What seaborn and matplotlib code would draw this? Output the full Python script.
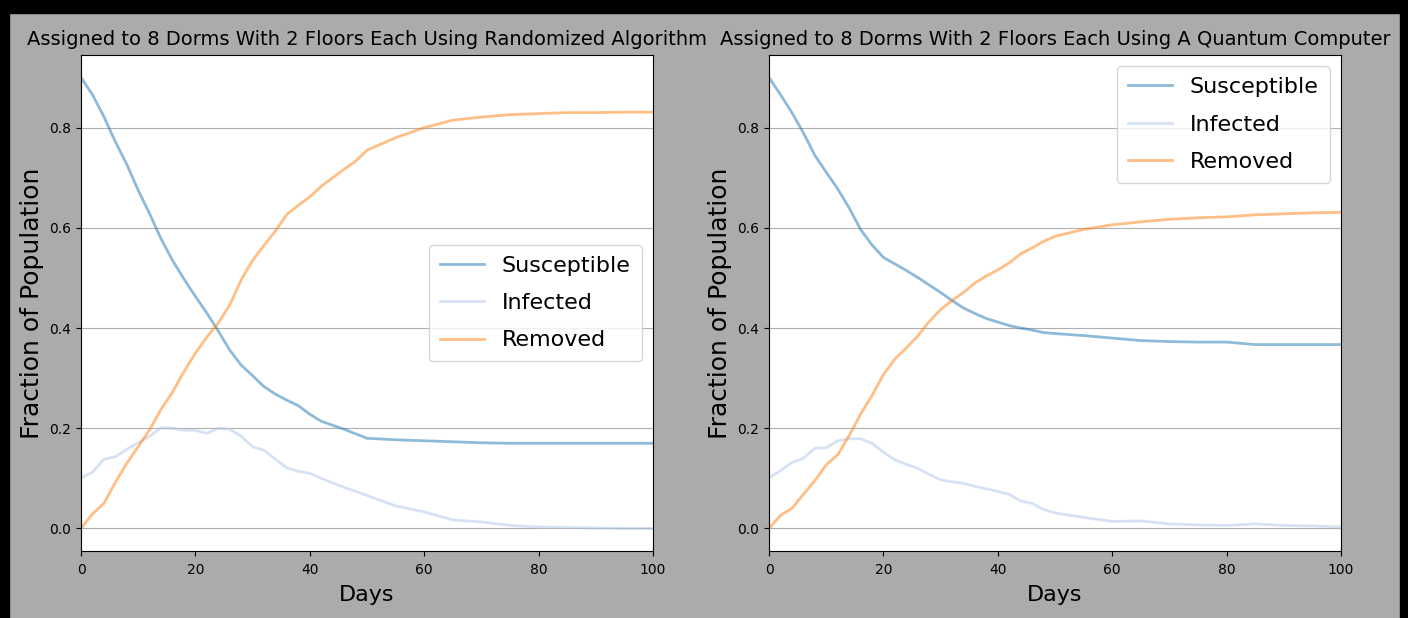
import numpy as np
import pandas as pd
import seaborn as sns
import matplotlib.pyplot as plt
from matplotlib.patches import Rectangle

# days (denser in the first half where curves move fast)
days = [0, 2, 4, 6, 8, 10, 12, 14, 16, 18, 20, 22, 24, 26, 28, 30, 32, 34, 36, 38,
        40, 42, 44, 46, 48, 50, 55, 60, 65, 70, 75, 80, 85, 90, 95, 100]

# left panel - randomized algorithm
rand_susceptible = [0.900, 0.866, 0.822, 0.772, 0.727, 0.675, 0.628, 0.578, 0.535, 0.498,
                    0.463, 0.430, 0.394, 0.356, 0.326, 0.305, 0.283, 0.268, 0.256, 0.245,
                    0.228, 0.214, 0.206, 0.198, 0.189, 0.180, 0.177, 0.175, 0.173, 0.171,
                    0.170, 0.170, 0.170, 0.170, 0.170, 0.170]
rand_infected = [0.101, 0.112, 0.138, 0.143, 0.158, 0.171, 0.184, 0.201, 0.200, 0.196,
                 0.196, 0.190, 0.200, 0.198, 0.184, 0.163, 0.156, 0.138, 0.121, 0.114,
                 0.110, 0.100, 0.091, 0.082, 0.074, 0.066, 0.045, 0.033, 0.017, 0.013,
                 0.006, 0.003, 0.002, 0.001, 0.000, 0.000]
rand_removed = [0.000, 0.029, 0.050, 0.092, 0.130, 0.163, 0.197, 0.238, 0.272, 0.313,
                0.350, 0.382, 0.410, 0.446, 0.496, 0.535, 0.565, 0.594, 0.627, 0.645,
                0.662, 0.683, 0.700, 0.717, 0.733, 0.755, 0.780, 0.800, 0.815, 0.821,
                0.826, 0.828, 0.830, 0.830, 0.831, 0.831]

# right panel - quantum computer
quant_susceptible = [0.900, 0.866, 0.830, 0.790, 0.745, 0.711, 0.678, 0.640, 0.597, 0.566,
                     0.541, 0.528, 0.515, 0.501, 0.486, 0.471, 0.455, 0.440, 0.429, 0.419,
                     0.412, 0.405, 0.400, 0.396, 0.391, 0.389, 0.385, 0.380, 0.375, 0.373,
                     0.372, 0.372, 0.367, 0.367, 0.367, 0.367]
quant_infected = [0.101, 0.115, 0.132, 0.140, 0.160, 0.161, 0.175, 0.179, 0.179, 0.170,
                  0.152, 0.137, 0.128, 0.120, 0.108, 0.097, 0.093, 0.090, 0.084, 0.079,
                  0.074, 0.068, 0.055, 0.050, 0.038, 0.031, 0.022, 0.014, 0.015, 0.009,
                  0.007, 0.006, 0.009, 0.006, 0.005, 0.003]
quant_removed = [0.000, 0.026, 0.040, 0.068, 0.095, 0.127, 0.147, 0.185, 0.228, 0.265,
                 0.307, 0.338, 0.360, 0.384, 0.413, 0.437, 0.455, 0.471, 0.490, 0.504,
                 0.516, 0.530, 0.548, 0.560, 0.573, 0.583, 0.597, 0.606, 0.612, 0.617,
                 0.620, 0.622, 0.626, 0.628, 0.630, 0.631]

labels = ['Susceptible', 'Infected', 'Removed']
colors = ['#1f77b4', '#aec7e8', '#ff7f0e']
titles = ['Assigned to 8 Dorms With 2 Floors Each Using Randomized Algorithm',
          'Assigned to 8 Dorms With 2 Floors Each Using A Quantum Computer']

panels = [
    pd.DataFrame({'Days': days, 'Susceptible': rand_susceptible,
                  'Infected': rand_infected, 'Removed': rand_removed}),
    pd.DataFrame({'Days': days, 'Susceptible': quant_susceptible,
                  'Infected': quant_infected, 'Removed': quant_removed}),
]
legend_locs = ['center right', 'upper right']

W, H = 1408, 618
fig = plt.figure(figsize=(W / 100, H / 100), dpi=100, facecolor='#ababab')

# black screenshot frame
fig.patches.append(Rectangle((0, 0), 9 / W, 1, transform=fig.transFigure, color='black'))
fig.patches.append(Rectangle((0, 1 - 13 / H), 1, 13 / H, transform=fig.transFigure, color='black'))
fig.patches.append(Rectangle((1 - 8 / W, 0), 8 / W, 1, transform=fig.transFigure, color='black'))

lefts = [81, 769]
for i, df in enumerate(panels):
    ax = fig.add_axes([lefts[i] / W, (H - 551) / H, 572 / W, 496 / H])
    ax.set_facecolor('white')
    for lab, col in zip(labels, colors):
        sns.lineplot(x='Days', y=lab, data=df, ax=ax, color=col, alpha=0.5,
                     linewidth=2, label=lab)
    ax.set_xlim(0, 100)
    ax.set_yticks([0.0, 0.2, 0.4, 0.6, 0.8])
    ax.grid(axis='y', color='#b0b0b0')
    ax.tick_params(labelsize=10)
    ax.tick_params(axis='x', pad=5)
    ax.set_xlabel('Days', fontsize=16, labelpad=6)
    ax.set_ylabel('Fraction of Population', fontsize=18, labelpad=4)
    ax.set_title(titles[i], fontsize=14, pad=7)
    ax.legend(loc=legend_locs[i], fontsize=16, labelspacing=0.78, borderpad=0.5)

fig.savefig('out.png', dpi=100, facecolor=fig.get_facecolor())
